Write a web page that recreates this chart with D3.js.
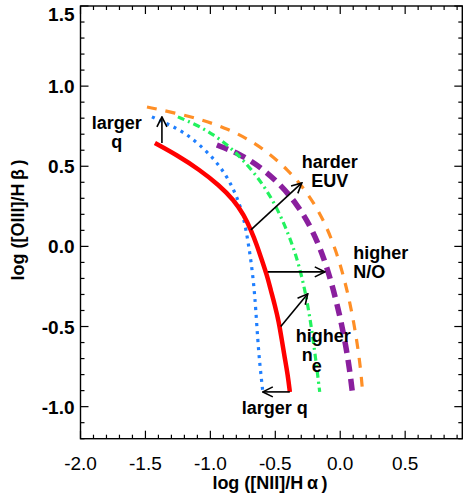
<!DOCTYPE html>
<html><head><meta charset="utf-8">
<script src="https://cdn.jsdelivr.net/npm/d3@7"></script>
<style>body{margin:0;background:#fff}svg{display:block}text{font-family:"Liberation Sans",Arial,Helvetica,sans-serif}</style>
</head><body><svg id="c" width="464" height="498"></svg>
<script>
// ---- data ----
const xDomain = [-2.0, 0.94];
const yDomain = [-1.2, 1.5];
const xTickLabels = [-2.0, -1.5, -1.0, -0.5, 0.0, 0.5];
const yTickLabels = [-1.0, -0.5, 0.0, 0.5, 1.0, 1.5];

const redX    = [-1.427,-1.258,-1.081,-0.935,-0.819,-0.742,-0.688,-0.642,-0.604,-0.565,-0.535,-0.504,-0.473,-0.450,-0.427,-0.404,-0.388];
const redY    = [0.645,0.570,0.477,0.383,0.290,0.196,0.103,0.009,-0.085,-0.178,-0.272,-0.365,-0.471,-0.584,-0.696,-0.802,-0.908];
const blueX   = [-1.450,-1.327,-1.196,-1.081,-0.965,-0.881,-0.819,-0.773,-0.740,-0.712,-0.688,-0.665,-0.650,-0.635,-0.619,-0.596];
const blueY   = [0.808,0.764,0.708,0.633,0.540,0.446,0.352,0.259,0.165,0.040,-0.085,-0.241,-0.397,-0.584,-0.740,-0.908];
const greenX  = [-1.250,-1.104,-0.973,-0.850,-0.750,-0.650,-0.558,-0.481,-0.419,-0.365,-0.319,-0.281,-0.250,-0.219,-0.188,-0.158];
const greenY  = [0.808,0.758,0.696,0.621,0.540,0.446,0.340,0.228,0.115,0.003,-0.116,-0.241,-0.365,-0.521,-0.708,-0.908];
const purpleX = [-0.950,-0.773,-0.604,-0.458,-0.335,-0.235,-0.158,-0.096,-0.042,0.004,0.042,0.073,0.096];
const purpleY = [0.633,0.577,0.490,0.383,0.265,0.134,-0.003,-0.147,-0.303,-0.459,-0.615,-0.771,-0.927];
const orangeX = [-1.488,-1.273,-1.058,-0.865,-0.696,-0.542,-0.404,-0.288,-0.188,-0.104,-0.035,0.019,0.065,0.104,0.135,0.158,0.173];
const orangeY = [0.870,0.833,0.789,0.733,0.664,0.577,0.477,0.371,0.252,0.121,-0.022,-0.166,-0.316,-0.472,-0.628,-0.771,-0.914];

// arrows: [x0,y0,x1,y1] in data units
const arrowLargerQUp   = [-1.373, 0.645, -1.373, 0.808];
const arrowHarderEUV   = [-0.688, 0.103, -0.296, 0.396];
const arrowHigherNO    = [-0.558, -0.159, -0.119, -0.159];
const arrowHigherNe    = [-0.458, -0.500, -0.250, -0.296];
const arrowLargerQLeft = [-0.388, -0.908, -0.596, -0.908];

const labels = [
  {lines:["larger","q"], x:-1.72, y:0.73, anchor:"middle"},
  {lines:["harder","EUV"], x:-0.081, y:0.489, anchor:"middle"},
  {lines:["higher","N/O"], x:0.10, y:-0.078, anchor:"start"},
  {lines:["larger q"], x:-0.504, y:-1.046, anchor:"middle"}
];

// ---- drawing ----
const svg = d3.select("#c");
const L=80.5, R=462.3, T=6, B=438.7;
const x = d3.scaleLinear().domain(xDomain).range([L,R]);
const y = d3.scaleLinear().domain(yDomain).range([B,T]);

svg.append("defs").append("marker").attr("id","ah").attr("viewBox","0 0 12 12")
  .attr("refX",11).attr("refY",6).attr("markerWidth",12).attr("markerHeight",12)
  .attr("markerUnits","userSpaceOnUse").attr("orient","auto")
  .append("path").attr("d","M1,1 L11,6 L1,11").attr("fill","none").attr("stroke","#000").attr("stroke-width",1.6);

const line = d3.line().x(d=>x(d[0])).y(d=>y(d[1])).curve(d3.curveBasis);
const series = [
  {xs:orangeX, ys:orangeY, c:"#ff8f26", w:3.2, dash:"10,9"},
  {xs:purpleX, ys:purpleY, c:"#8a1f9e", w:5.5, dash:"12,7"},
  {xs:greenX, ys:greenY, c:"#22f25e", w:3.2, dash:"7,4,2,4"},
  {xs:blueX, ys:blueY, c:"#1f7fff", w:3.2, dash:"3,5"},
  {xs:redX, ys:redY, c:"#ff0000", w:4.5, dash:null}
];
series.forEach(s=>{
  svg.append("path").datum(s.xs.map((v,i)=>[v,s.ys[i]]))
    .attr("d",line).attr("fill","none").attr("stroke",s.c).attr("stroke-width",s.w)
    .attr("stroke-dasharray",s.dash);
});

// axes
const g = svg.append("g");
const xMinor = d3.range(-20, 10).map(i=>i/10).filter(v=>v>=xDomain[0]-1e-9 && v<=xDomain[1]);
const yMinor = d3.range(-12, 16).map(i=>i/10);
const isMajor = v=>Math.abs(v*2-Math.round(v*2))<1e-6;
xMinor.forEach(v=>{
  const len = isMajor(v)?8:4;
  g.append("line").attr("x1",x(v)).attr("x2",x(v)).attr("y1",B).attr("y2",B-len).attr("stroke","#000").attr("stroke-width",1.2);
  g.append("line").attr("x1",x(v)).attr("x2",x(v)).attr("y1",T).attr("y2",T+len).attr("stroke","#000").attr("stroke-width",1.2);
});
yMinor.forEach(v=>{
  const len = isMajor(v)?8:4;
  g.append("line").attr("y1",y(v)).attr("y2",y(v)).attr("x1",L).attr("x2",L+len).attr("stroke","#000").attr("stroke-width",1.2);
  g.append("line").attr("y1",y(v)).attr("y2",y(v)).attr("x1",R).attr("x2",R-len).attr("stroke","#000").attr("stroke-width",1.2);
});
g.append("rect").attr("x",L).attr("y",T).attr("width",R-L).attr("height",B-T).attr("fill","none").attr("stroke","#000").attr("stroke-width",1.4);

xTickLabels.forEach(v=>{
  svg.append("text").attr("x",x(v)).attr("y",B+31).attr("text-anchor","middle")
    .attr("font-size",19).text(v.toFixed(1));
});
yTickLabels.forEach(v=>{
  svg.append("text").attr("x",L-6).attr("y",Math.max(y(v)+7, 21)).attr("text-anchor","end")
    .attr("font-size",19).attr("font-weight","bold").text(v.toFixed(1));
});
svg.append("text").attr("x",270).attr("y",489).attr("text-anchor","middle")
  .attr("font-size",18).attr("font-weight","bold").text("log ([NII]/H\u2009α\u2009)");
svg.append("text").attr("transform","translate(24,220) rotate(-90)").attr("text-anchor","middle")
  .attr("font-size",18).attr("font-weight","bold").text("log ([OIII]/H\u2009β\u2009)");

// arrows
[arrowLargerQUp, arrowHarderEUV, arrowHigherNO, arrowHigherNe, arrowLargerQLeft].forEach(a=>{
  svg.append("line").attr("x1",x(a[0])).attr("y1",y(a[1])).attr("x2",x(a[2])).attr("y2",y(a[3]))
    .attr("stroke","#000").attr("stroke-width",1.6).attr("marker-end","url(#ah)");
});

// labels
labels.forEach(lb=>{
  lb.lines.forEach((t,i)=>{
    svg.append("text").attr("x",x(lb.x)).attr("y",y(lb.y)+i*19).attr("text-anchor",lb.anchor)
      .attr("font-size",18).attr("font-weight","bold").text(t);
  });
});
// higher n_e
svg.append("text").attr("x",x(-0.131)).attr("y",y(-0.595)).attr("text-anchor","middle")
  .attr("font-size",18).attr("font-weight","bold").text("higher");
svg.append("text").attr("x",x(-0.296)).attr("y",y(-0.716)).attr("font-size",18).attr("font-weight","bold").text("n");
svg.append("text").attr("x",x(-0.219)).attr("y",y(-0.783)).attr("font-size",18).attr("font-weight","bold").text("e");
</script></body></html>
